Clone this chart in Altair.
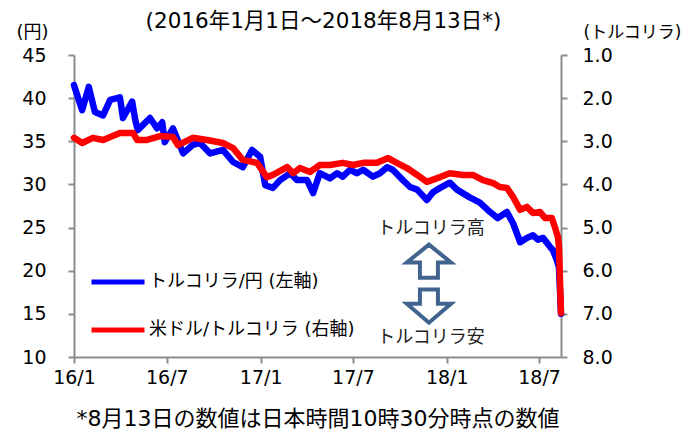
import altair as alt
import pandas as pd

FONT = "DejaVu Sans, Noto Sans CJK JP"

NAME_JPY = "トルコリラ/円 (左軸)"
NAME_USD = "米ドル/トルコリラ (右軸)"

jpy_dates = [
    "2016-01-01", "2016-01-17", "2016-01-30", "2016-02-11", "2016-02-27", "2016-03-12",
    "2016-03-31", "2016-04-06", "2016-04-24", "2016-04-30", "2016-05-05", "2016-05-29",
    "2016-06-12", "2016-06-22", "2016-06-27", "2016-07-13", "2016-08-02", "2016-08-21",
    "2016-09-04", "2016-09-24", "2016-10-19", "2016-11-08", "2016-11-27", "2016-12-15",
    "2016-12-31", "2017-01-10", "2017-01-25", "2017-02-08", "2017-02-28", "2017-03-13",
    "2017-04-02", "2017-04-14", "2017-04-27", "2017-05-17", "2017-05-31", "2017-06-11",
    "2017-06-25", "2017-07-09", "2017-07-21", "2017-08-09", "2017-08-23", "2017-09-06",
    "2017-09-17", "2017-10-07", "2017-10-21", "2017-11-04", "2017-11-23", "2017-12-05",
    "2017-12-19", "2018-01-07", "2018-01-21", "2018-02-15", "2018-03-07", "2018-03-27",
    "2018-04-11", "2018-04-29", "2018-05-11", "2018-05-25", "2018-06-07", "2018-06-19",
    "2018-06-29", "2018-07-09", "2018-07-22", "2018-07-28", "2018-08-05", "2018-08-09",
    "2018-08-13",
]
jpy_values = [
    41.5, 38.6, 41.3, 38.4, 38.0, 39.8,
    40.1, 37.7, 39.6, 37.5, 36.3, 37.7,
    36.5, 37.2, 34.9, 36.5, 33.6, 34.6,
    34.8, 33.6, 34.0, 32.6, 32.0, 34.0,
    33.2, 29.9, 29.6, 30.5, 31.3, 30.5,
    30.5, 29.0, 31.3, 30.7, 31.3, 30.9,
    31.7, 31.3, 31.7, 30.9, 31.3, 32.0,
    31.7, 30.5, 29.7, 29.4, 28.2, 29.1,
    29.6, 30.2, 29.4, 28.5, 27.9, 26.8,
    26.1, 26.8, 25.5, 23.3, 23.8, 24.1,
    23.6, 23.8, 22.8, 22.4, 21.2, 20.4,
    15.0,
]

usd_dates = [
    "2016-01-01", "2016-01-17", "2016-02-07", "2016-02-27", "2016-03-31", "2016-04-26",
    "2016-05-04", "2016-05-23", "2016-06-18", "2016-07-13", "2016-07-23", "2016-08-21",
    "2016-09-18", "2016-10-19", "2016-11-08", "2016-11-27", "2016-12-25", "2017-01-13",
    "2017-01-25", "2017-02-22", "2017-03-06", "2017-03-19", "2017-04-08", "2017-04-27",
    "2017-05-17", "2017-06-11", "2017-07-01", "2017-07-21", "2017-08-17", "2017-09-08",
    "2017-09-25", "2017-10-15", "2017-11-04", "2017-11-23", "2017-12-19", "2018-01-07",
    "2018-02-02", "2018-02-21", "2018-03-13", "2018-04-02", "2018-04-15", "2018-04-29",
    "2018-05-11", "2018-05-25", "2018-06-07", "2018-06-19", "2018-07-03", "2018-07-13",
    "2018-07-26", "2018-08-01", "2018-08-07", "2018-08-09", "2018-08-13",
]
usd_values = [
    2.92, 3.04, 2.92, 2.97, 2.81, 2.81,
    2.97, 2.97, 2.88, 2.90, 3.09, 2.92,
    2.97, 3.04, 3.16, 3.43, 3.50, 3.83,
    3.78, 3.60, 3.74, 3.62, 3.71, 3.55,
    3.55, 3.50, 3.55, 3.50, 3.50, 3.39,
    3.50, 3.62, 3.78, 3.94, 3.83, 3.74,
    3.78, 3.78, 3.90, 3.97, 4.06, 4.08,
    4.29, 4.59, 4.52, 4.66, 4.64, 4.78,
    4.78, 4.99, 5.22, 5.45, 6.98,
]

left_ticks = [10, 15, 20, 25, 30, 35, 40, 45]
right_ticks = [1, 2, 3, 4, 5, 6, 7, 8]

ann_dates = ["2017-12-01", "2017-12-01"]
ann_values = [24.8, 12.2]
ann_labels = ["トルコリラ高", "トルコリラ安"]
arrow_date = "2017-11-27"
arrow_up_value = 21.1
arrow_down_value = 15.9

df_jpy = pd.DataFrame({"date": pd.to_datetime(jpy_dates), "value": jpy_values, "series": NAME_JPY})
df_usd = pd.DataFrame({"date": pd.to_datetime(usd_dates), "value": usd_values, "series": NAME_USD})
df_ann = pd.DataFrame({"date": pd.to_datetime(ann_dates), "value": ann_values, "label": ann_labels})
df_up = pd.DataFrame({"date": pd.to_datetime([arrow_date]), "value": [arrow_up_value]})
df_down = pd.DataFrame({"date": pd.to_datetime([arrow_date]), "value": [arrow_down_value]})

x_scale = alt.Scale(domain=[alt.DateTime(year=2016, month=1, date=1),
                            alt.DateTime(year=2018, month=8, date=13)])
x_tick_values = [alt.DateTime(year=y, month=m, date=1)
                 for y, m in [(2016, 1), (2016, 7), (2017, 1), (2017, 7), (2018, 1), (2018, 7)]]
left_scale = alt.Scale(domain=[10, 45], nice=False, zero=False)
right_scale = alt.Scale(domain=[1, 8], nice=False, zero=False, reverse=True)

AXIS_GRAY = "#8c8c8c"

x_axis = alt.Axis(
    values=x_tick_values, format="%y/%-m", grid=False, labelFlush=False,
    domainColor=AXIS_GRAY, domainWidth=2, tickColor=AXIS_GRAY, tickWidth=2, tickSize=6,
    labelFont=FONT, labelFontSize=19, labelColor="black", labelPadding=5,
    title="*8月13日の数値は日本時間10時30分時点の数値",
    titleFont=FONT, titleFontSize=22, titleFontWeight="normal", titleColor="black",
    titlePadding=21,
)
left_axis = alt.Axis(
    values=left_ticks, grid=False,
    domainColor=AXIS_GRAY, domainWidth=2, tickColor=AXIS_GRAY, tickWidth=2, tickSize=6,
    labelFont=FONT, labelFontSize=19, labelColor="black", labelPadding=22,
    title="(円)", titleFont=FONT, titleFontSize=18, titleFontWeight="normal", titleColor="black",
    titleAngle=0, titleAlign="center", titleBaseline="middle", titleX=-42, titleY=-23,
)
right_axis = alt.Axis(
    orient="right", values=right_ticks, format=".1f", grid=False,
    domainColor=AXIS_GRAY, domainWidth=2, tickColor=AXIS_GRAY, tickWidth=2, tickSize=6,
    labelFont=FONT, labelFontSize=19, labelColor="black", labelPadding=15,
    title="(トルコリラ)", titleFont=FONT, titleFontSize=17, titleFontWeight="normal",
    titleColor="black", titleAngle=0, titleAlign="center", titleBaseline="middle",
    titleX=71, titleY=-23,
)

color_scale = alt.Scale(domain=[NAME_JPY, NAME_USD], range=["#0000ff", "#ff0000"])
legend = alt.Legend(
    title=None, orient="none", legendX=15, legendY=198, symbolType="stroke",
    symbolSize=2809, symbolStrokeWidth=5, labelFont=FONT, labelFontSize=18,
    labelColor="black", labelOffset=2, rowPadding=9, padding=0, labelLimit=400,
)

line_kw = dict(strokeWidth=6.5, strokeJoin="round", strokeCap="round")

blue = alt.Chart(df_jpy).mark_line(**line_kw).encode(
    x=alt.X("date:T", scale=x_scale, axis=x_axis),
    y=alt.Y("value:Q", scale=left_scale, axis=left_axis),
    color=alt.Color("series:N", scale=color_scale, legend=legend),
)

texts = alt.Chart(df_ann).mark_text(font=FONT, fontSize=18, color="#222222").encode(
    x=alt.X("date:T", scale=x_scale, axis=x_axis),
    y=alt.Y("value:Q", scale=left_scale, axis=left_axis),
    text="label:N",
)

ARROW_COLOR = "#41648f"
up_path = "M0,-0.69L0.92,0.05L0.375,0.05L0.375,0.69L-0.375,0.69L-0.375,0.05L-0.92,0.05Z"
down_path = "M-0.375,-0.69L0.375,-0.69L0.375,-0.1L0.92,-0.1L0,0.69L-0.92,-0.1L-0.375,-0.1Z"

up_arrow = alt.Chart(df_up).mark_point(
    shape=up_path, size=2304, filled=True, fill="white", stroke=ARROW_COLOR,
    strokeWidth=4, opacity=1,
).encode(
    x=alt.X("date:T", scale=x_scale, axis=x_axis),
    y=alt.Y("value:Q", scale=left_scale, axis=left_axis),
)
down_arrow = alt.Chart(df_down).mark_point(
    shape=down_path, size=2304, filled=True, fill="white", stroke=ARROW_COLOR,
    strokeWidth=4, opacity=1,
).encode(
    x=alt.X("date:T", scale=x_scale, axis=x_axis),
    y=alt.Y("value:Q", scale=left_scale, axis=left_axis),
)

left_group = alt.layer(blue, texts, up_arrow, down_arrow)

red = alt.Chart(df_usd).mark_line(**line_kw).encode(
    x=alt.X("date:T", scale=x_scale, axis=x_axis),
    y=alt.Y("value:Q", scale=right_scale, axis=right_axis),
    color=alt.Color("series:N", scale=color_scale, legend=legend),
)

chart = alt.layer(left_group, red).resolve_scale(y="independent").properties(
    width=487, height=302,
    autosize=alt.AutoSizeParams(type="none"),
    padding={"left": 66, "top": 47, "right": 129, "bottom": 76},
    title=alt.TitleParams(
        "(2016年1月1日～2018年8月13日*)", font=FONT, fontSize=21.5, fontWeight="normal",
        color="black", anchor="middle", frame="group", offset=4, dy=13, dx=6,
    ),
).configure_view(stroke=None)

chart.save("out.html", embed_options={"renderer": "svg", "actions": False})
